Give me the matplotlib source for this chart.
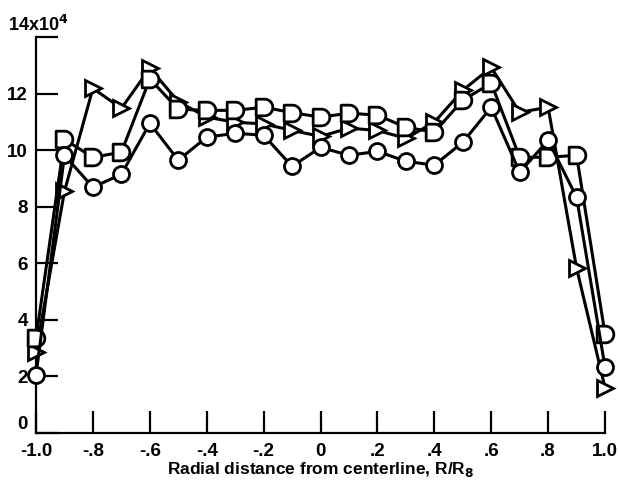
import matplotlib
matplotlib.use("Agg")
import matplotlib.pyplot as plt
from matplotlib.path import Path
import numpy as np

# Radial stations, R/R8
r_pos = [-1.0, -0.9, -0.8, -0.7, -0.6, -0.5, -0.4, -0.3, -0.2, -0.1, 0.0,
         0.1, 0.2, 0.3, 0.4, 0.5, 0.6, 0.7, 0.8, 0.9, 1.0]

# Measured values (units of 1e4)
circle_vals = [2.05, 9.82, 8.69, 9.15, 10.95, 9.65, 10.46, 10.6, 10.53, 9.43, 10.1,
               9.82, 9.96, 9.61, 9.47, 10.28, 11.52, 9.22, 10.35, 8.34, 2.33]
dshape_vals = [3.35, 10.38, 9.75, 9.93, 12.52, 11.45, 11.41, 11.41, 11.52, 11.33, 11.17,
               11.31, 11.24, 10.81, 10.64, 11.77, 12.37, 9.75, 9.75, 9.82, 3.5]
tri_vals = [2.85, 8.55, 12.19, 11.48, 12.9, 11.72, 11.17, 10.99, 10.93, 10.7, 10.49,
            10.78, 10.7, 10.42, 10.99, 12.12, 12.93, 11.34, 11.52, 5.83, 1.6]

x_ticks = [-1.0, -0.8, -0.6, -0.4, -0.2, 0.0, 0.2, 0.4, 0.6, 0.8, 1.0]
x_labels = ["-1.0", "-.8", "-.6", "-.4", "-.2", "0", ".2", ".4", ".6", ".8", "1.0"]
y_ticks = [0, 2, 4, 6, 8, 10, 12, 14]
y_labels = ["0", "2", "4", "6", "8", "10", "12", ""]

# "D" shaped marker: flat left side, rounded right side
theta = np.linspace(-np.pi / 2, np.pi / 2, 25)
verts = [(-1.0, -1.0), (0.0, -1.0)]
verts += [(np.cos(t), np.sin(t)) for t in theta]
verts += [(-1.0, 1.0), (-1.0, -1.0)]
codes = [Path.MOVETO] + [Path.LINETO] * (len(verts) - 2) + [Path.CLOSEPOLY]
d_marker = Path(verts, codes)

plt.rcParams['font.family'] = ['Liberation Sans', 'DejaVu Sans']
plt.rcParams['font.weight'] = 'bold'

fig = plt.figure(figsize=(6.18, 4.95), dpi=100)
ax = fig.add_axes([0.0583, 0.1253, 0.9207, 0.7997])

style = dict(color='black', lw=2.2, markerfacecolor='white',
             markeredgecolor='black', markeredgewidth=2.0, clip_on=False)
ax.plot(r_pos, tri_vals, marker='>', markersize=12, zorder=3, **style)
ax.plot(r_pos, dshape_vals, marker=d_marker, markersize=12, zorder=4, **style)
ax.plot(r_pos, circle_vals, marker='o', markersize=11.5, zorder=5, **style)

ax.set_xlim(-1.0, 1.0)
ax.set_ylim(0, 14)
ax.spines['top'].set_visible(False)
ax.spines['right'].set_visible(False)
for s in ('left', 'bottom'):
    ax.spines[s].set_linewidth(1.6)

ax.set_xticks(x_ticks)
ax.set_xticklabels(x_labels)
ax.set_yticks(y_ticks)
ax.set_yticklabels(y_labels)
ax.tick_params(direction='in', length=16, width=1.6, labelsize=13.5)
ax.tick_params(axis='x', pad=7)
ax.tick_params(axis='y', pad=6)
ax.get_yticklabels()[0].set_verticalalignment('bottom')

fig.text(8 / 618, 1 - 31 / 495, "14x10$^4$", ha='left', va='baseline',
         fontsize=13, fontweight='bold')

ax.set_xlabel("Radial distance from centerline, R/R$_8$", fontsize=12.5,
              fontweight='bold', labelpad=0)

fig.savefig("out.png", dpi=100)
